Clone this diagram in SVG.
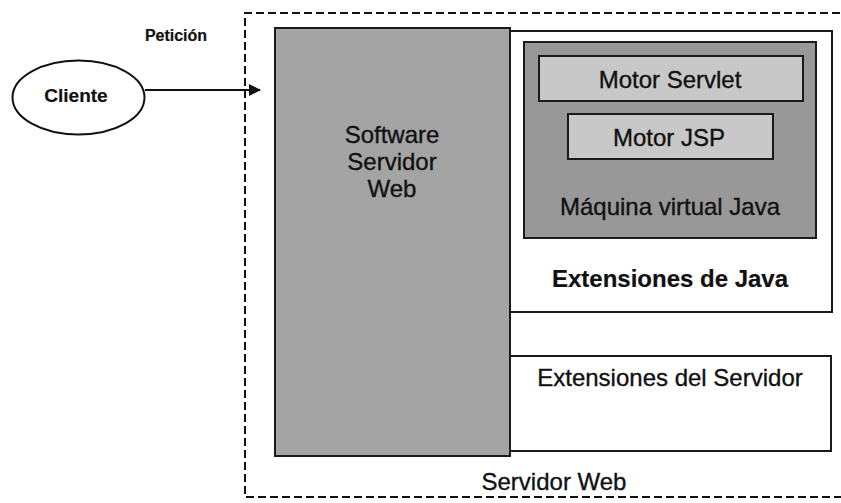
<svg xmlns="http://www.w3.org/2000/svg" width="841" height="503" viewBox="0 0 841 503">
<defs>
<style>
.t{font-family:"Liberation Sans",Arial,sans-serif;fill:#111;stroke:#111;stroke-width:0.35;text-anchor:middle}
.b{font-weight:bold;stroke-width:0.2}
.box{stroke:#1a1a1a;stroke-width:2}
</style>
<marker id="ah" viewBox="0 0 12 12" refX="11" refY="6" markerWidth="12" markerHeight="12" markerUnits="userSpaceOnUse" orient="auto">
<path d="M0,0 L12,6 L0,12 Z" fill="#111"/>
</marker>
</defs>
<rect width="841" height="503" fill="#fff"/>
<g id="servidor-web">
<path d="M852,13 H245 V497 H852" fill="none" stroke="#111" stroke-width="2" stroke-dasharray="8,4"/>
<text class="t" x="554" y="490" font-size="24">Servidor Web</text>
</g>
<g id="cliente">
<ellipse cx="78.5" cy="97.5" rx="66" ry="37" fill="#fff" stroke="#111" stroke-width="2"/>
<text class="t b" x="76" y="102" font-size="19">Cliente</text>
</g>
<g id="extensiones-java">
<rect class="box" x="510" y="31" width="322" height="281" fill="#fff"/>
<text class="t b" x="670" y="287" font-size="24">Extensiones de Java</text>
</g>
<g id="extensiones-servidor">
<rect class="box" x="510" y="356" width="321" height="95" fill="#fff"/>
<text class="t" x="670" y="386" font-size="24">Extensiones del Servidor</text>
</g>
<g id="software-servidor">
<rect class="box" x="275" y="28" width="235" height="428" fill="#a4a4a4"/>
<text class="t" x="392" y="143" font-size="24">Software</text>
<text class="t" x="392" y="170" font-size="24">Servidor</text>
<text class="t" x="392" y="197" font-size="24">Web</text>
</g>
<g id="maquina-virtual">
<rect class="box" x="524" y="42" width="292" height="196" fill="#989898"/>
<text class="t" x="670" y="215" font-size="24">Máquina virtual Java</text>
</g>
<g id="motor-servlet">
<rect class="box" x="539" y="56" width="264" height="45" fill="#c8c8c8"/>
<text class="t" x="670" y="88" font-size="24">Motor Servlet</text>
</g>
<g id="motor-jsp">
<rect class="box" x="568" y="114" width="205" height="45" fill="#c8c8c8"/>
<text class="t" x="669" y="146" font-size="24">Motor JSP</text>
</g>
<g id="connectors">
<line x1="145" y1="90" x2="260" y2="90" stroke="#111" stroke-width="2" marker-end="url(#ah)"/>
<text class="t b" x="176" y="41" font-size="16">Petición</text>
</g>
</svg>
